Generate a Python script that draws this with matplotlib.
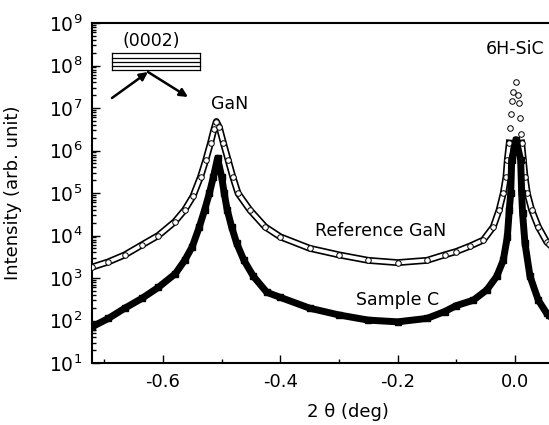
import matplotlib

matplotlib.use('agg')
import matplotlib.pyplot as plt
import numpy as np
from matplotlib.ticker import LogLocator, MultipleLocator, FixedLocator

# 2 theta (deg) and intensity
ref_theta = [-0.721, -0.693, -0.665, -0.636, -0.608, -0.580, -0.563, -0.549, -0.536, -0.527,
             -0.519, -0.513, -0.509, -0.504, -0.497, -0.489, -0.481, -0.472, -0.452, -0.426,
             -0.40, -0.35, -0.30, -0.25, -0.20, -0.15, -0.12, -0.10, -0.077, -0.054,
             -0.037, -0.027, -0.020, -0.0153, -0.013, -0.0097, -0.0085, -0.0073, -0.0056, -0.004,
             0.0017, 0.006, 0.0074, 0.0085, 0.0097, 0.0114, 0.0142, 0.017, 0.021, 0.0284,
             0.0398, 0.054, 0.058]
ref_int = [1.8e3, 2.4e3, 3.5e3, 6.0e3, 1.0e4, 2.1e4, 4.0e4, 8.3e4, 2.4e5, 6.0e5,
           1.5e6, 3.2e6, 4.8e6, 3.5e6, 1.5e6, 6.0e5, 2.4e5, 9.8e4, 4.0e4, 1.6e4,
           9.3e3, 5.0e3, 3.5e3, 2.6e3, 2.3e3, 2.6e3, 3.5e3, 4.2e3, 5.6e3, 7.8e3,
           1.6e4, 4.0e4, 9.8e4, 2.4e5, 6.0e5, 1.5e6, 3.3e6, 7.4e6, 1.5e7, 2.4e7,
           4.2e7, 2.0e7, 1.3e7, 5.8e6, 2.5e6, 1.5e6, 6.0e5, 2.4e5, 9.8e4, 4.0e4,
           1.6e4, 7.1e3, 6.3e3]

c_theta = [-0.721, -0.693, -0.665, -0.636, -0.608, -0.579, -0.563, -0.550, -0.538, -0.529,
           -0.521, -0.514, -0.507, -0.500, -0.4956, -0.4905, -0.483, -0.4745, -0.462, -0.446,
           -0.423, -0.40, -0.35, -0.30, -0.25, -0.20, -0.15, -0.12, -0.10, -0.071,
           -0.048, -0.031, -0.020, -0.013, -0.0097, -0.0073, -0.0056, 0.0017, 0.0097, 0.0114,
           0.013, 0.017, 0.0256, 0.0398, 0.054, 0.058]
c_int = [71, 112, 195, 331, 600, 1.26e3, 2.6e3, 5.5e3, 1.6e4, 4.0e4,
         9.8e4, 2.4e5, 6.6e5, 2.4e5, 9.8e4, 4.0e4, 1.6e4, 6.6e3, 2.6e3, 1.1e3,
         460, 350, 195, 135, 102, 93, 112, 162, 224, 300,
         525, 1.1e3, 2.6e3, 9.3e3, 4.0e4, 9.8e4, 6.0e5, 1.8e6, 6.0e5, 9.8e4,
         3.3e4, 6.6e3, 1.1e3, 300, 148, 132]

y_ticks = [1e1, 1e2, 1e3, 1e4, 1e5, 1e6, 1e7, 1e8, 1e9]
y_labels = ['$10^{%d}$' % n for n in range(1, 10)]
x_ticks = [-0.6, -0.4, -0.2, 0.0]
x_labels = ['-0.6', '-0.4', '-0.2', '0.0']

W, H = 549, 425
fig = plt.figure(figsize=(W / 100, H / 100), dpi=100)
L, T, B = 92, 23, 363
ax = fig.add_axes([L / W, 1 - B / H, 1 - L / W, (B - T) / H])


def ax_xy(px, py):
    return (px - L) / (W - L), (B - py) / (B - T)


# reference GaN: open circles; the dense part drawn as a hollow band,
# the sparse top of the SiC peak left as single circles
rt = np.array(ref_theta)
ri = np.array(ref_int)
band = np.ma.masked_where((rt > -0.1) & (ri > 2e6), ri)
ax.plot(rt, band, color='black', lw=5, zorder=2)
ax.plot(rt, band, color='white', lw=2.6, zorder=3)
ax.plot(rt, ri, 'o', mfc='white', mec='black', ms=4, mew=0.7, zorder=4)

# sample C: filled squares
ax.plot(c_theta, c_int, color='black', lw=5, zorder=5)
ax.plot(c_theta, c_int, 's', color='black', ms=4, zorder=6)

ax.set_yscale('log')
ax.set_xlim(-0.721, 0.058)
ax.set_ylim(1e1, 1e9)
ax.yaxis.set_major_locator(FixedLocator(y_ticks))
ax.set_yticklabels(y_labels, fontsize=13.5)
ax.yaxis.set_minor_locator(LogLocator(base=10, subs=[2, 3, 4, 5, 6, 7, 8, 9], numticks=100))
ax.yaxis.set_minor_formatter(plt.NullFormatter())
ax.set_xticks(x_ticks)
ax.set_xticklabels(x_labels, fontsize=13)
ax.xaxis.set_minor_locator(MultipleLocator(0.1))

ax.tick_params(which='both', direction='in', top=False, right=False, width=1)
ax.tick_params(which='major', length=6, pad=7)
ax.tick_params(which='minor', length=3)
for s in ['left', 'bottom', 'top']:
    ax.spines[s].set_linewidth(1.5)
ax.spines['right'].set_visible(False)

ax.set_ylabel('Intensity (arb. unit)', fontsize=13)
ax.set_xlabel('2 θ (deg)', fontsize=13)
ax.xaxis.set_label_coords(*ax_xy(348, 403))
ax.yaxis.set_label_coords(*ax_xy(22, 193))

txt = dict(transform=ax.transAxes, ha='center', va='center', fontsize=12.5)
ax.text(*ax_xy(151, 41), '(0002)', **txt)
ax.text(*ax_xy(230, 104), 'GaN', **txt)
ax.text(*ax_xy(515, 49), '6H-SiC', **txt)
ax.text(*ax_xy(381, 231), 'Reference GaN', **txt)
ax.text(*ax_xy(398, 300), 'Sample C', **txt)

# layered crystal sketch with incident/diffracted beams
x0, x1 = ax_xy(112, 0)[0], ax_xy(200, 0)[0]
for py in [53, 57.5, 62, 66, 70]:
    yy = ax_xy(0, py)[1]
    ax.plot([x0, x1], [yy, yy], color='black', lw=0.9, transform=ax.transAxes)
for px in [112, 200]:
    xx = ax_xy(px, 0)[0]
    ax.plot([xx, xx], [ax_xy(0, 53)[1], ax_xy(0, 70)[1]], color='black', lw=0.9,
            transform=ax.transAxes)
arr = dict(arrowstyle='-|>', color='black', lw=1.8, mutation_scale=12, shrinkA=0, shrinkB=0)
ax.annotate('', xy=ax_xy(148, 72), xytext=ax_xy(112, 98), xycoords='axes fraction',
            textcoords='axes fraction', arrowprops=arr)
ax.annotate('', xy=ax_xy(188, 97), xytext=ax_xy(148, 72), xycoords='axes fraction',
            textcoords='axes fraction', arrowprops=arr)

fig.savefig('out.png', dpi=100)
